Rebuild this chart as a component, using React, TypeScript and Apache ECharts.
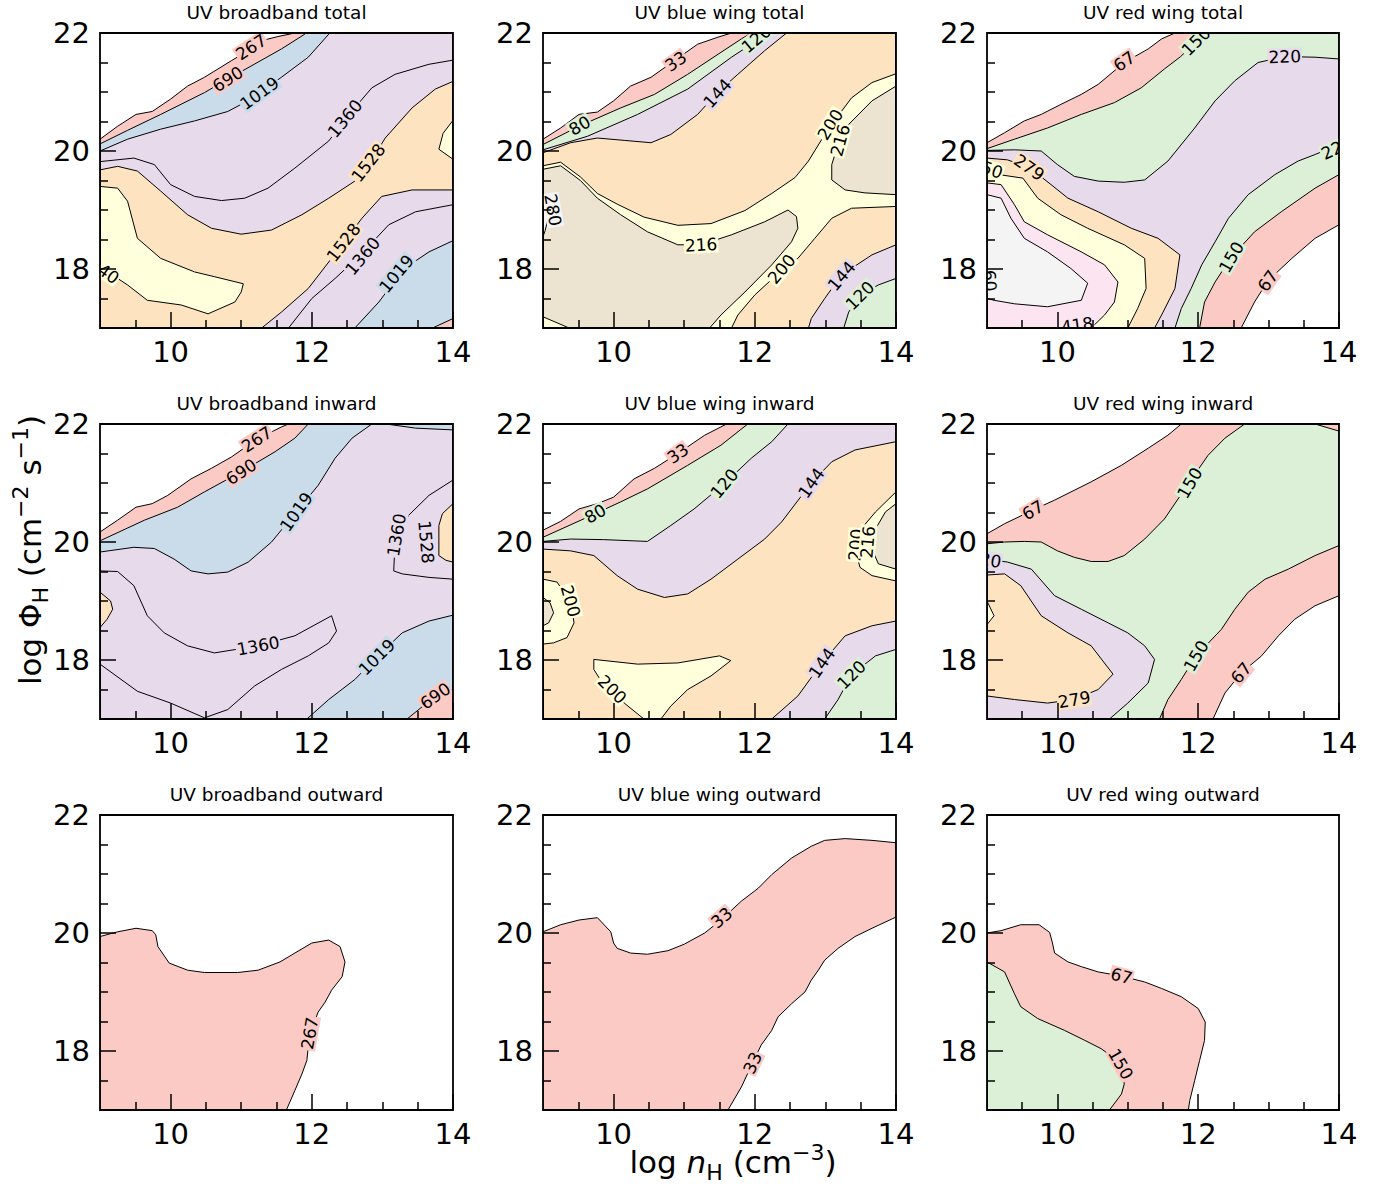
import React, { useEffect, useRef } from "react";
import * as echarts from "echarts";

type Pt = [number, number];
type Label = [string, number, number, number, string]; // text, x, y, rotation (deg), band colour key

const TITLES = [
  "UV broadband total", "UV blue wing total", "UV red wing total",
  "UV broadband inward", "UV blue wing inward", "UV red wing inward",
  "UV broadband outward", "UV blue wing outward", "UV red wing outward",
];

const X_MAJOR = [10, 12, 14];
const X_MINOR = [9.5, 10.5, 11, 11.5, 12.5, 13, 13.5];
const Y_MAJOR = [18, 20, 22];
const Y_MINOR = [17.5, 18.5, 19, 19.5, 20.5, 21, 21.5];

const COLORS: Record<string, string> = {
  red: "#fbcac5", blue: "#cadcea", green: "#dbf0d6", purple: "#e7daeb",
  orange: "#fee3c1", yellow: "#ffffdb", tan: "#ece3d0", pink: "#fde4f1", gray: "#f4f4f4",
};

// ---------- Panel 1: UV broadband total (regions where value >= level) ----------
const P1_L267: Pt[] = [[9,20.2],[9.25,20.42],[9.51,20.62],[9.74,20.67],[10.0,20.88],[10.24,21.1],[10.48,21.25],[10.86,21.53],[11.14,21.73],[11.29,21.87],[11.52,21.94],[11.76,22],[14,22],[14,17],[9,17]];
const P1_L690: Pt[] = [[9,20.12],[9.39,20.35],[9.86,20.62],[10.48,20.99],[10.81,21.22],[11.14,21.44],[11.57,21.73],[11.9,21.98],[11.92,22],[14,22],[14,17.16],[13.71,17],[9,17]];
const P1_L1019: Pt[] = [[9,20.0],[9.39,20.2],[9.86,20.37],[10.34,20.51],[10.81,20.67],[11.14,20.88],[11.57,21.25],[11.95,21.59],[12.24,21.98],[12.25,22],[14,22],[14,18.48],[13.66,18.29],[13.3,18.0],[12.95,17.44],[12.61,17],[9,17]];
const P1_L1360: Pt[] = [[9,19.82],[9.48,19.88],[9.77,19.77],[10.0,19.43],[10.34,19.23],[10.72,19.16],[11.05,19.2],[11.38,19.37],[11.76,19.71],[12.24,20.17],[12.5,20.58],[12.85,21.07],[13.18,21.3],[13.66,21.47],[14,21.54],[14,19.09],[13.47,18.97],[13.09,18.75],[12.7,18.25],[12.33,17.84],[12.0,17.5],[11.67,17],[9,17]];
const P1_L1528: Pt[] = [[9,19.68],[9.25,19.74],[9.53,19.66],[9.86,19.32],[10.24,18.92],[10.58,18.69],[11.0,18.59],[11.43,18.66],[11.86,18.92],[12.24,19.2],[12.61,19.49],[12.8,19.75],[13.04,20.22],[13.42,20.73],[13.75,21.05],[14,21.18],[14,19.34],[13.42,19.34],[12.99,19.23],[12.71,18.86],[12.28,18.18],[11.95,17.67],[11.57,17.27],[11.29,17],[9,17]];
const P1_TOP_A: Pt[] = [[9,19.4],[9.25,19.37],[9.39,19.15],[9.53,18.52],[9.86,18.18],[10.34,17.95],[10.62,17.87],[11.03,17.75],[11.0,17.61],[10.91,17.44],[10.53,17.24],[10.15,17.39],[9.67,17.47],[9.39,17.73],[9.2,17.88],[9,17.98]];
const P1_TOP_B: Pt[] = [[14,20.52],[13.86,20.3],[13.8,20.03],[14,19.86]];
const P1_LABELS: Label[] = [
  ["267", 11.14, 21.76, 33, "red"], ["690", 10.81, 21.22, 32, "red"], ["1019", 11.26, 20.98, 36, "blue"],
  ["1360", 12.47, 20.55, 50, "purple"], ["1528", 12.8, 19.8, 52, "orange"], ["1528", 12.45, 18.45, 52, "orange"],
  ["1360", 12.72, 18.22, 50, "purple"], ["1019", 13.2, 17.92, 50, "blue"], ["40", 9.12, 17.92, -35, "yellow"],
];

// ---------- Panel 2: UV blue wing total ----------
const P2_L33: Pt[] = [[9,20.2],[9.25,20.39],[9.51,20.62],[9.77,20.66],[10.0,20.85],[10.24,21.1],[10.53,21.25],[10.86,21.53],[11.19,21.81],[11.48,21.93],[11.67,22],[14,22],[14,17],[9,17]];
const P2_L80: Pt[] = [[9,20.11],[9.51,20.42],[10.1,20.73],[10.58,20.96],[11.05,21.3],[11.48,21.64],[11.81,21.9],[11.95,22],[14,22],[14,17],[9,17]];
const P2_L120: Pt[] = [[9,20.02],[9.63,20.25],[10.34,20.62],[11.05,21.05],[11.67,21.59],[12.0,21.85],[12.19,22],[14,22],[14,17.84],[13.75,17.73],[13.49,17.55],[13.33,17.27],[13.26,17],[9,17]];
const P2_L144: Pt[] = [[9,19.97],[9.39,20.14],[9.77,20.22],[10.15,20.18],[10.53,20.14],[10.81,20.28],[11.19,20.62],[11.48,21.0],[11.76,21.3],[12.14,21.7],[12.45,22],[14,22],[14,18.41],[13.66,18.24],[13.23,17.9],[12.99,17.5],[12.8,17.16],[12.76,17],[9,17]];
const P2_L200: Pt[] = [[9,19.75],[9.25,19.81],[9.53,19.56],[9.77,19.28],[10.05,19.1],[10.43,18.88],[10.91,18.74],[11.38,18.77],[11.86,18.99],[12.24,19.28],[12.57,19.55],[12.76,19.83],[12.95,20.2],[13.09,20.45],[13.37,20.9],[13.66,21.16],[14,21.31],[14,19.06],[13.37,19.03],[13.09,18.86],[12.85,18.52],[12.61,18.18],[12.4,18.0],[12.0,17.56],[11.76,17.22],[11.67,17],[9,17]];
const P2_L216A: Pt[] = [[9,19.69],[9.25,19.75],[9.53,19.5],[9.77,19.2],[10.1,18.92],[10.48,18.63],[10.91,18.41],[11.24,18.41],[11.67,18.58],[12.14,18.8],[12.47,19.0],[12.59,18.89],[12.61,18.69],[12.52,18.46],[12.24,18.07],[11.86,17.61],[11.52,17.22],[11.36,17],[9.37,17],[9,17.19]];
const P2_L216B: Pt[] = [[14,21.1],[13.66,20.85],[13.33,20.45],[13.18,20.11],[13.09,19.77],[13.09,19.51],[13.28,19.34],[13.56,19.29],[14,19.26]];
const P2_L280: Pt[] = [[9,19.3],[9.05,19.1],[9.07,18.85],[9.03,18.65],[9,18.55]];
const P2_LABELS: Label[] = [
  ["33", 10.88, 21.52, 35, "red"], ["80", 9.52, 20.43, 30, "green"], ["120", 12.02, 21.9, 40, "green"],
  ["144", 11.47, 20.98, 48, "purple"], ["200", 13.07, 20.45, 58, "yellow"], ["216", 13.21, 20.18, 75, "yellow"],
  ["216", 11.24, 18.41, 3, "yellow"], ["200", 12.38, 18.0, 50, "yellow"], ["144", 13.23, 17.88, 50, "purple"],
  ["120", 13.49, 17.55, 45, "green"], ["280", 9.14, 19.0, -80, "gray"],
];

// ---------- Panel 3: UV red wing total ----------
const P3_L67: Pt[] = [[9,20.14],[9.25,20.31],[9.53,20.51],[9.77,20.62],[10.05,20.79],[10.34,20.96],[10.58,21.13],[10.95,21.5],[11.29,21.73],[11.48,21.9],[11.67,22],[14,22],[14,18.75],[13.66,18.52],[13.33,18.18],[12.99,17.8],[12.8,17.44],[12.61,17],[9,17]];
const P3_L150: Pt[] = [[9,20.04],[9.39,20.2],[9.86,20.39],[10.34,20.62],[10.81,20.82],[11.19,21.07],[11.52,21.39],[11.75,21.6],[11.97,21.85],[12.24,22],[14,22],[14,19.6],[13.66,19.37],[13.18,18.97],[12.8,18.63],[12.47,18.2],[12.24,17.78],[12.09,17.44],[12.02,17],[9,17]];
const P3_L220: Pt[] = [[9,20.01],[9.39,20.02],[9.77,20.0],[10.0,19.77],[10.24,19.57],[10.58,19.49],[10.95,19.47],[11.24,19.51],[11.57,19.83],[11.95,20.39],[12.24,20.85],[12.52,21.19],[12.85,21.5],[13.23,21.6],[13.66,21.59],[14,21.56],[14,20.11],[13.66,19.94],[13.42,19.83],[13.09,19.6],[12.71,19.26],[12.43,18.86],[12.24,18.46],[12.05,18.07],[11.9,17.67],[11.76,17.33],[11.67,17],[9,17]];
const P3_L279: Pt[] = [[9,19.88],[9.29,19.85],[9.6,19.72],[9.91,19.43],[10.15,19.2],[10.58,18.97],[11.05,18.69],[11.43,18.52],[11.74,18.24],[11.67,17.67],[11.48,17.22],[11.38,17],[9,17]];
const P3_L350: Pt[] = [[9,19.63],[9.51,19.54],[9.72,19.2],[10.05,18.92],[10.43,18.69],[10.95,18.41],[11.24,18.18],[11.26,17.67],[11.14,17.33],[11.0,17],[9,17]];
const P3_L418: Pt[] = [[9,19.46],[9.2,19.43],[9.39,19.09],[9.53,18.8],[9.86,18.58],[10.34,18.29],[10.67,18.07],[10.86,17.78],[10.81,17.44],[10.67,17.22],[10.48,17],[9,17]];
const P3_L480: Pt[] = [[9,19.26],[9.2,19.2],[9.34,18.86],[9.53,18.52],[9.86,18.29],[10.19,18.01],[10.43,17.76],[10.34,17.47],[9.86,17.36],[9.39,17.41],[9.1,17.47],[9,17.5]];
const P3_LABELS: Label[] = [
  ["67", 10.95, 21.52, 35, "red"], ["150", 11.97, 21.86, 45, "green"], ["220", 13.23, 21.6, 2, "purple"],
  ["220", 13.97, 20.05, 25, "green"], ["279", 9.6, 19.72, -35, "orange"], ["150", 12.47, 18.2, 60, "green"],
  ["67", 12.99, 17.8, 55, "red"], ["50", 9.07, 19.68, -20, "yellow"], ["60", 9.04, 17.8, -85, "gray"],
  ["418", 10.28, 17.05, 8, "pink"],
];

// ---------- Panel 4: UV broadband inward ----------
const P4_L267: Pt[] = [[9,20.17],[9.25,20.37],[9.51,20.59],[9.74,20.65],[9.96,20.79],[10.29,21.07],[10.58,21.25],[10.86,21.44],[11.22,21.74],[11.57,21.95],[11.67,22],[14,22],[14,17],[9,17]];
const P4_L690: Pt[] = [[9,20.02],[9.63,20.37],[10.1,20.59],[10.48,20.85],[11.0,21.19],[11.48,21.53],[11.76,21.76],[11.95,22],[14,22],[14,17.5],[13.75,17.39],[13.35,17],[9,17]];
const P4_L1019: Pt[] = [[9,19.83],[9.48,19.91],[9.77,19.89],[10.05,19.71],[10.29,19.51],[10.53,19.46],[10.81,19.49],[11.1,19.66],[11.43,20.0],[11.78,20.51],[12.09,20.96],[12.33,21.42],[12.57,21.76],[12.85,22],[13.05,22],[13.47,21.93],[14,21.9],[14,18.76],[13.66,18.66],[13.28,18.46],[12.92,18.05],[12.61,17.67],[12.24,17.33],[11.93,17],[9,17]];
const P4_L1360A: Pt[] = [[14,21.05],[13.66,20.79],[13.37,20.45],[13.18,20.0],[13.16,19.51],[13.28,19.46],[13.66,19.4],[14,19.37]];
const P4_L1360B: Pt[] = [[9,19.51],[9.25,19.5],[9.48,19.26],[9.67,18.75],[9.91,18.46],[10.24,18.24],[10.62,18.12],[11.24,18.24],[11.76,18.41],[12.28,18.75],[12.35,18.49],[12.24,18.29],[11.95,18.07],[11.57,17.84],[11.19,17.56],[10.81,17.16],[10.48,17.02],[10.0,17.27],[9.53,17.47],[9,17.93]];
const P4_L1528A: Pt[] = [[14,20.65],[13.85,20.48],[13.8,20.28],[13.8,19.77],[13.9,19.69],[14,19.66]];
const P4_L1528B: Pt[] = [[9,19.15],[9.15,19.0],[9.18,18.86],[9.1,18.69],[9,18.55]];
const P4_LABELS: Label[] = [
  ["267", 11.22, 21.74, 33, "red"], ["690", 11.0, 21.19, 33, "red"], ["1019", 11.78, 20.51, 55, "blue"],
  ["1360", 13.2, 20.12, 80, "purple"], ["1528", 13.62, 20.0, -85, "purple"], ["1360", 11.24, 18.24, 10, "purple"],
  ["1019", 12.92, 18.05, 45, "blue"], ["690", 13.75, 17.39, 35, "red"],
];

// ---------- Panel 5: UV blue wing inward ----------
const P5_L33: Pt[] = [[9,20.2],[9.25,20.35],[9.51,20.56],[9.77,20.65],[10.0,20.76],[10.29,21.07],[10.58,21.25],[10.91,21.5],[11.29,21.81],[11.52,21.95],[11.6,22],[14,22],[14,17],[9,17]];
const P5_L80: Pt[] = [[9,20.08],[9.74,20.48],[10.1,20.68],[10.48,20.9],[11.05,21.3],[11.52,21.64],[11.9,22],[14,22],[14,17],[9,17]];
const P5_L120: Pt[] = [[9,20.01],[9.39,20.05],[9.86,20.04],[10.48,20.01],[10.81,20.28],[11.14,20.56],[11.57,20.99],[11.95,21.42],[12.24,21.7],[12.47,22],[14,22],[14,18.18],[13.71,18.07],[13.37,17.75],[13.18,17.33],[12.99,17],[9,17]];
const P5_L144: Pt[] = [[9,19.88],[9.39,19.85],[9.72,19.77],[10.05,19.43],[10.34,19.2],[10.72,19.06],[11.05,19.12],[11.38,19.37],[11.76,19.71],[12.14,20.05],[12.38,20.34],[12.8,21.0],[13.09,21.36],[13.42,21.56],[14,21.7],[14,18.66],[13.66,18.58],[13.28,18.41],[12.95,17.95],[12.61,17.39],[12.24,17],[9,17]];
const P5_L200A: Pt[] = [[14,20.85],[13.71,20.51],[13.47,20.17],[13.42,19.88],[13.49,19.57],[13.66,19.43],[14,19.34]];
const P5_L200B: Pt[] = [[9,19.37],[9.2,19.32],[9.39,18.97],[9.44,18.63],[9.34,18.38],[9.15,18.29],[9,18.27]];
const P5_L200C: Pt[] = [[9.72,18.01],[10.34,17.93],[10.91,17.95],[11.5,18.07],[11.66,17.99],[11.38,17.73],[11.05,17.5],[10.81,17.22],[10.67,17],[10.43,17],[10.15,17.27],[9.98,17.5],[9.81,17.67],[9.72,17.84]];
const P5_L216A: Pt[] = [[14,20.65],[13.85,20.51],[13.71,20.22],[13.66,19.88],[13.75,19.63],[14,19.54]];
const P5_L216B: Pt[] = [[9,19.06],[9.1,18.97],[9.15,18.8],[9.08,18.63],[9,18.58]];
const P5_LABELS: Label[] = [
  ["33", 10.91, 21.5, 35, "red"], ["80", 9.74, 20.48, 30, "green"], ["120", 11.57, 20.99, 50, "green"],
  ["144", 12.8, 21.0, 55, "purple"], ["200", 13.43, 19.95, 85, "yellow"], ["216", 13.6, 20.0, 85, "yellow"],
  ["200", 9.39, 19.0, -75, "yellow"], ["200", 9.98, 17.5, -45, "yellow"], ["144", 12.95, 17.95, 55, "purple"],
  ["120", 13.37, 17.75, 45, "green"],
];

// ---------- Panel 6: UV red wing inward ----------
const P6_L67: Pt[] = [[9,20.14],[9.25,20.31],[9.65,20.54],[9.96,20.71],[10.48,21.02],[10.91,21.3],[11.29,21.59],[11.57,21.81],[11.76,22],[14,22],[14,19.09],[13.66,18.92],[13.37,18.69],[13.14,18.41],[12.9,18.07],[12.61,17.78],[12.38,17.44],[12.21,17],[9,17]];
const P6_L150: Pt[] = [[9,19.97],[9.25,20.0],[9.53,20.01],[9.77,20.0],[10.0,19.85],[10.24,19.74],[10.48,19.67],[10.72,19.67],[10.95,19.77],[11.24,20.05],[11.52,20.39],[11.88,21.02],[12.14,21.47],[12.38,21.76],[12.66,22],[13.66,22],[14,21.88],[14,19.94],[13.66,19.77],[13.28,19.54],[12.95,19.37],[12.71,19.15],[12.52,18.86],[12.33,18.52],[11.97,18.07],[11.76,17.67],[11.57,17.33],[11.45,17],[9,17]];
const P6_L220: Pt[] = [[9,19.71],[9.29,19.66],[9.63,19.54],[9.96,19.09],[10.34,18.86],[10.72,18.63],[11.0,18.46],[11.24,18.24],[11.38,18.01],[11.29,17.61],[11.0,17.27],[10.74,17],[9,17]];
const P6_L279: Pt[] = [[9,19.44],[9.25,19.46],[9.48,19.26],[9.77,18.75],[10.15,18.46],[10.48,18.24],[10.79,17.76],[10.58,17.5],[10.24,17.33],[9.86,17.27],[9.39,17.33],[9,17.39]];
const P6_LY: Pt[] = [[9,19.0],[9.1,18.75],[9,18.6]];
const P6_LABELS: Label[] = [
  ["67", 9.65, 20.54, 30, "red"], ["150", 11.88, 21.0, 60, "green"], ["150", 11.97, 18.07, 60, "green"],
  ["67", 12.61, 17.78, 50, "red"], ["20", 9.05, 19.69, -10, "purple"], ["279", 10.24, 17.33, 10, "orange"],
];

// ---------- Panel 7: UV broadband outward ----------
const P7_L267: Pt[] = [[9,19.94],[9.25,20.02],[9.51,20.08],[9.74,20.04],[9.79,19.97],[9.82,19.77],[9.98,19.49],[10.24,19.37],[10.48,19.33],[10.95,19.33],[11.24,19.37],[11.55,19.51],[11.76,19.66],[12.0,19.83],[12.24,19.88],[12.4,19.77],[12.47,19.51],[12.43,19.26],[12.28,19.03],[12.19,18.83],[12.09,18.66],[11.97,18.29],[11.93,17.84],[11.86,17.61],[11.76,17.33],[11.64,17],[9,17]];
const P7_LABELS: Label[] = [["267", 11.97, 18.3, 80, "red"]];

// ---------- Panel 8: UV blue wing outward ----------
const P8_L33: Pt[] = [[9,20.02],[9.25,20.14],[9.51,20.22],[9.77,20.26],[9.96,20.02],[10.0,19.83],[10.05,19.74],[10.24,19.66],[10.48,19.64],[10.77,19.7],[11.0,19.81],[11.29,20.0],[11.52,20.22],[11.81,20.54],[12.05,20.76],[12.24,20.99],[12.52,21.27],[12.8,21.47],[12.99,21.57],[13.28,21.6],[13.66,21.57],[14,21.53],[14,20.27],[13.66,20.08],[13.42,19.94],[13.18,19.74],[12.99,19.54],[12.9,19.37],[12.8,19.2],[12.71,19.0],[12.52,18.8],[12.33,18.58],[12.24,18.35],[12.09,18.1],[11.97,17.8],[11.81,17.39],[11.62,17],[9,17]];
const P8_LABELS: Label[] = [["33", 11.53, 20.26, 40, "red"], ["33", 11.97, 17.8, 65, "red"]];

// ---------- Panel 9: UV red wing outward ----------
const P9_L67: Pt[] = [[9,20.0],[9.2,20.04],[9.48,20.14],[9.74,20.14],[9.89,20.01],[9.93,19.83],[9.96,19.66],[10.15,19.51],[10.34,19.43],[10.58,19.34],[10.91,19.27],[11.24,19.17],[11.48,19.06],[11.76,18.92],[12.0,18.72],[12.1,18.49],[12.09,18.18],[12.02,17.84],[11.95,17.5],[11.88,17.16],[11.86,17],[9,17]];
const P9_L150: Pt[] = [[9,19.51],[9.25,19.34],[9.39,18.97],[9.48,18.75],[9.72,18.55],[10.1,18.35],[10.39,18.18],[10.62,18.04],[10.9,17.8],[10.95,17.44],[10.91,17.27],[10.74,17],[9,17]];
const P9_LABELS: Label[] = [["67", 10.91, 19.27, -15, "red"], ["150", 10.9, 17.78, -60, "red"]];

type Fill = [Pt[], string];
const PANELS: { fills: Fill[]; labels: Label[] }[] = [
  { fills: [[P1_L267, "red"], [P1_L690, "blue"], [P1_L1019, "purple"], [P1_L1360, "purple"], [P1_L1528, "orange"], [P1_TOP_A, "yellow"], [P1_TOP_B, "yellow"]], labels: P1_LABELS },
  { fills: [[P2_L33, "red"], [P2_L80, "green"], [P2_L120, "purple"], [P2_L144, "orange"], [P2_L200, "yellow"], [P2_L216A, "tan"], [P2_L216B, "tan"], [P2_L280, "gray"]], labels: P2_LABELS },
  { fills: [[P3_L67, "red"], [P3_L150, "green"], [P3_L220, "purple"], [P3_L279, "orange"], [P3_L350, "yellow"], [P3_L418, "pink"], [P3_L480, "gray"]], labels: P3_LABELS },
  { fills: [[P4_L267, "red"], [P4_L690, "blue"], [P4_L1019, "purple"], [P4_L1360A, "purple"], [P4_L1360B, "purple"], [P4_L1528A, "orange"], [P4_L1528B, "orange"]], labels: P4_LABELS },
  { fills: [[P5_L33, "red"], [P5_L80, "green"], [P5_L120, "purple"], [P5_L144, "orange"], [P5_L200A, "yellow"], [P5_L200B, "yellow"], [P5_L200C, "yellow"], [P5_L216A, "tan"], [P5_L216B, "tan"]], labels: P5_LABELS },
  { fills: [[P6_L67, "red"], [P6_L150, "green"], [P6_L220, "purple"], [P6_L279, "orange"], [P6_LY, "yellow"]], labels: P6_LABELS },
  { fills: [[P7_L267, "red"]], labels: P7_LABELS },
  { fills: [[P8_L33, "red"]], labels: P8_LABELS },
  { fills: [[P9_L67, "red"], [P9_L150, "green"]], labels: P9_LABELS },
];

// layout (pixels)
const GRID_LEFT = [100, 543, 987];
const GRID_W = [353, 353, 352];
const GRID_TOP = [33, 424, 815];
const GRID_H = 295;
const FONT = "DejaVu Sans";

function buildOption(): any {
  const grid: any[] = [];
  const xAxis: any[] = [];
  const yAxis: any[] = [];
  const series: any[] = [];
  const graphic: any[] = [];
  const tickStyle = { color: "#000", width: 1.5 };

  PANELS.forEach((panel, i) => {
    const col = i % 3;
    const row = Math.floor(i / 3);
    grid.push({ left: GRID_LEFT[col], top: GRID_TOP[row], width: GRID_W[col], height: GRID_H });
    const common = { type: "value", gridIndex: i, min: 9, max: 14, z: 10, splitLine: { show: false } };
    xAxis.push({
      ...common, position: "bottom",
      axisLine: { show: false },
      axisTick: { show: true, inside: true, length: 8, customValues: X_MINOR, lineStyle: tickStyle },
      axisLabel: { show: true, customValues: X_MAJOR, fontSize: 29, fontFamily: FONT, color: "#000", margin: 9 },
    });
    xAxis.push({
      ...common, position: "bottom",
      axisLine: { show: false },
      axisTick: { show: true, inside: true, length: 16, customValues: X_MAJOR, lineStyle: tickStyle },
      axisLabel: { show: false },
    });
    const ycommon = { type: "value", gridIndex: i, min: 17, max: 22, z: 10, splitLine: { show: false } };
    yAxis.push({
      ...ycommon, position: "left",
      axisLine: { show: false },
      axisTick: { show: true, inside: true, length: 8, customValues: Y_MINOR, lineStyle: tickStyle },
      axisLabel: { show: true, customValues: Y_MAJOR, fontSize: 29, fontFamily: FONT, color: "#000", margin: 10 },
    });
    yAxis.push({
      ...ycommon, position: "left",
      axisLine: { show: false },
      axisTick: { show: true, inside: true, length: 16, customValues: Y_MAJOR, lineStyle: tickStyle },
      axisLabel: { show: false },
    });

    const fills = panel.fills;
    const polyData = fills.map((f) => [f[0][0][0], f[0][0][1]]);
    series.push({
      type: "custom", xAxisIndex: 2 * i, yAxisIndex: 2 * i, z: 2, clip: true, silent: true,
      data: polyData,
      renderItem: (params: any, api: any) => {
        const [poly, key] = fills[params.dataIndex];
        return { type: "polygon", shape: { points: poly.map((p) => api.coord(p)) }, style: { fill: COLORS[key], stroke: null } };
      },
    });
    series.push({
      type: "custom", xAxisIndex: 2 * i, yAxisIndex: 2 * i, z: 3, clip: true, silent: true,
      data: polyData,
      renderItem: (params: any, api: any) => {
        const [poly] = fills[params.dataIndex];
        return { type: "polygon", shape: { points: poly.map((p) => api.coord(p)) }, style: { fill: null, stroke: "#000", lineWidth: 1, lineJoin: "round" } };
      },
    });
    const labels = panel.labels;
    series.push({
      type: "custom", xAxisIndex: 2 * i, yAxisIndex: 2 * i, z: 4, clip: true, silent: true,
      data: labels.map((l) => [l[1], l[2]]),
      renderItem: (params: any, api: any) => {
        const [text, x, y, rot, key] = labels[params.dataIndex];
        const [px, py] = api.coord([x, y]);
        return {
          type: "text", x: px, y: py, rotation: (rot * Math.PI) / 180,
          style: { text, fontSize: 17, fontFamily: FONT, fill: "#000", align: "center", verticalAlign: "middle", backgroundColor: COLORS[key], padding: [0, 1] },
        };
      },
    });

    // frame
    graphic.push({
      type: "rect", z: 100, silent: true,
      shape: { x: GRID_LEFT[col], y: GRID_TOP[row], width: GRID_W[col], height: GRID_H },
      style: { fill: null, stroke: "#000", lineWidth: 1.8 },
    });
    // title
    graphic.push({
      type: "text", z: 100, x: GRID_LEFT[col] + GRID_W[col] / 2, y: GRID_TOP[row] - 21,
      style: { text: TITLES[i], fontSize: 18.5, fontFamily: FONT, fill: "#000", align: "center", verticalAlign: "middle" },
    });
  });

  const rich = {
    a: { fontSize: 31, fontFamily: FONT, color: "#000", lineHeight: 42 },
    i: { fontSize: 31, fontFamily: FONT, fontStyle: "italic", color: "#000", lineHeight: 42 },
    s: { fontSize: 22, fontFamily: FONT, color: "#000", lineHeight: 24, verticalAlign: "bottom" },
    p: { fontSize: 22, fontFamily: FONT, color: "#000", lineHeight: 24, verticalAlign: "top" },
  };
  graphic.push({
    type: "text", z: 100, x: 733, y: 1162,
    style: { text: "{a|log }{i|n}{s|H}{a| (cm}{p|−3}{a|)}", rich, align: "center", verticalAlign: "middle" },
  });
  graphic.push({
    type: "text", z: 100, x: 30, y: 550, rotation: Math.PI / 2,
    style: { text: "{a|log Φ}{s|H}{a| (cm}{p|−2}{a| s}{p|−1}{a|)}", rich, align: "center", verticalAlign: "middle" },
  });

  return { animation: false, backgroundColor: "#fff", grid, xAxis, yAxis, series, graphic };
}

export default function App() {
  const ref = useRef<HTMLDivElement>(null);
  useEffect(() => {
    const chart = echarts.init(ref.current!, null, { renderer: "svg" });
    chart.setOption(buildOption());
    return () => chart.dispose();
  }, []);
  return <div ref={ref} style={{ position: "absolute", left: 0, top: 0, width: 1390, height: 1188 }} />;
}
